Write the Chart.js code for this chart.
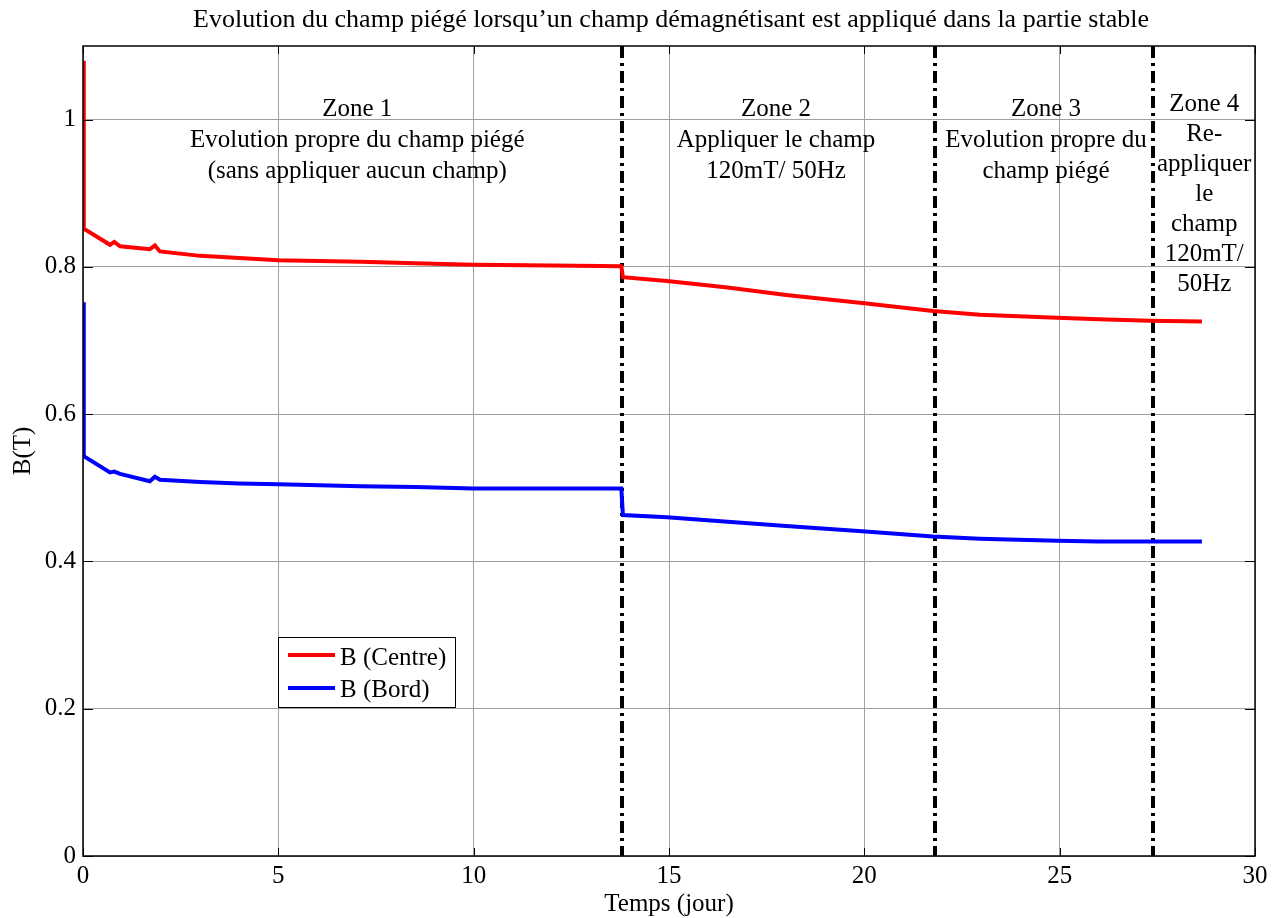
<!DOCTYPE html>
<html>
<head>
<meta charset="utf-8">
<script src="https://cdn.jsdelivr.net/npm/chart.js@4.4.1/dist/chart.umd.min.js"></script>
<style>
  html, body { margin: 0; padding: 0; background: #fff; }
  #wrap { width: 1280px; height: 918px; position: relative; }
</style>
</head>
<body>
<div id="wrap"><canvas id="chart"></canvas></div>
<script>
// time in days
const days = [0, 0.02, 0.69, 0.8, 0.95, 1.71, 1.84, 1.97, 3.0, 4.0, 5.0, 7.1, 8.5, 10.0, 12.0, 13.78, 13.82, 14.95, 16.5, 18.0, 19.94, 21.76, 22.96, 24.93, 26.0, 27.3, 28.64];
const bCentre = [1.08, 0.852, 0.830, 0.834, 0.828, 0.824, 0.829, 0.821, 0.815, 0.812, 0.809, 0.807, 0.805, 0.803, 0.802, 0.801, 0.786, 0.781, 0.772, 0.762, 0.751, 0.740, 0.735, 0.731, 0.729, 0.727, 0.726];
const bBord = [0.752, 0.543, 0.521, 0.522, 0.519, 0.509, 0.515, 0.511, 0.508, 0.506, 0.505, 0.502, 0.501, 0.499, 0.499, 0.499, 0.463, 0.460, 0.454, 0.448, 0.441, 0.434, 0.431, 0.428, 0.427, 0.427, 0.427];

// zone boundaries (days)
const zoneLimits = [13.8, 21.8, 27.4];

const xTicks = [0, 5, 10, 15, 20, 25, 30];
const yTicks = [0, 0.2, 0.4, 0.6, 0.8, 1];

const zoneLabels = [
  { x: 7.02, lines: ['Zone 1', 'Evolution propre du champ piégé', '(sans appliquer aucun champ)'] },
  { x: 17.74, lines: ['Zone 2', 'Appliquer le champ', '120mT/ 50Hz'] },
  { x: 24.65, lines: ['Zone 3', 'Evolution propre du', 'champ piégé'] },
  { x: 28.7, lines: ['Zone 4', 'Re-', 'appliquer', 'le', 'champ', '120mT/', '50Hz'] }
];

const serif = '"Liberation Serif", "Times New Roman", serif';

const pts = (ys) => days.map((d, i) => ({ x: d, y: ys[i] }));

const decor = {
  id: 'decor',
  beforeDatasetsDraw(chart) {
    const { ctx, chartArea: a, scales: { x } } = chart;
    // zone separators
    ctx.save();
    ctx.strokeStyle = '#000';
    ctx.lineWidth = 4;
    ctx.setLineDash([12, 5, 3, 5]);
    zoneLimits.forEach(v => {
      const px = Math.round(x.getPixelForValue(v));
      ctx.beginPath();
      ctx.moveTo(px, a.top);
      ctx.lineTo(px, a.bottom);
      ctx.stroke();
    });
    ctx.restore();
  },
  afterDatasetsDraw(chart) {
    const { ctx, chartArea: a, scales: { x, y } } = chart;
    ctx.save();
    // box
    ctx.strokeStyle = '#000';
    ctx.lineWidth = 1.5;
    ctx.strokeRect(a.left, a.top, a.right - a.left, a.bottom - a.top);
    // inward tick marks
    ctx.lineWidth = 1;
    xTicks.forEach(v => {
      const px = Math.round(x.getPixelForValue(v)) + 0.5;
      ctx.beginPath();
      ctx.moveTo(px, a.bottom); ctx.lineTo(px, a.bottom - 8);
      ctx.moveTo(px, a.top); ctx.lineTo(px, a.top + 8);
      ctx.stroke();
    });
    yTicks.forEach(v => {
      const py = Math.round(y.getPixelForValue(v)) + 0.5;
      ctx.beginPath();
      ctx.moveTo(a.left, py); ctx.lineTo(a.left + 10, py);
      ctx.moveTo(a.right, py); ctx.lineTo(a.right - 10, py);
      ctx.stroke();
    });

    // zone text
    ctx.fillStyle = '#000';
    ctx.font = '25px ' + serif;
    ctx.textAlign = 'center';
    ctx.textBaseline = 'alphabetic';
    zoneLabels.forEach(z => {
      const px = x.getPixelForValue(z.x);
      const tall = z.lines.length > 3;
      z.lines.forEach((t, i) => {
        const py = tall ? 111 + i * 30 : 116 + i * 31;
        ctx.fillText(t, px, py);
      });
    });

    // legend
    const lx = 278, ly = 637, lw = 177, lh = 70;
    ctx.fillStyle = '#fff';
    ctx.fillRect(lx, ly, lw, lh);
    ctx.strokeStyle = '#000';
    ctx.lineWidth = 1;
    ctx.strokeRect(lx + 0.5, ly + 0.5, lw, lh);
    const items = [['B (Centre)', '#ff0000', 655, 665], ['B (Bord)', '#0000ff', 688, 697]];
    ctx.textAlign = 'left';
    items.forEach(([t, c, py, by]) => {
      ctx.strokeStyle = c;
      ctx.lineWidth = 4;
      ctx.beginPath();
      ctx.moveTo(288, py); ctx.lineTo(335, py);
      ctx.stroke();
      ctx.fillStyle = '#000';
      ctx.fillText(t, 340, by);
    });

    // title
    ctx.font = '26px ' + serif;
    ctx.textAlign = 'center';
    ctx.fillText('Evolution du champ piégé lorsqu\u2019un champ démagnétisant est appliqué dans la partie stable', 671, 27);
    ctx.restore();
  }
};

new Chart(document.getElementById('chart'), {
  type: 'scatter',
  data: {
    datasets: [
      { label: 'B (Centre)', data: pts(bCentre), showLine: true, borderColor: '#ff0000', borderWidth: 4, pointRadius: 0, tension: 0 },
      { label: 'B (Bord)', data: pts(bBord), showLine: true, borderColor: '#0000ff', borderWidth: 4, pointRadius: 0, tension: 0 }
    ]
  },
  options: {
    responsive: true,
    maintainAspectRatio: false,
    animation: false,
    layout: { padding: { top: 46, right: 25, left: 0, bottom: 0 } },
    plugins: {
      legend: { display: false },
      tooltip: { enabled: false }
    },
    scales: {
      x: {
        type: 'linear',
        min: 0,
        max: 30,
        afterBuildTicks: s => { s.ticks = xTicks.map(v => ({ value: v })); },
        afterFit: s => { s.height = 62; },
        grid: { color: '#a0a0a0', lineWidth: 1, drawTicks: false },
        border: { display: false },
        ticks: { color: '#000', font: { family: serif, size: 25 }, padding: 5, maxRotation: 0, callback: v => String(v) },
        title: { display: true, text: 'Temps (jour)', color: '#000', font: { family: serif, size: 25 }, padding: { top: 0, bottom: -1 } }
      },
      y: {
        min: 0,
        max: 1.1,
        afterBuildTicks: s => { s.ticks = yTicks.map(v => ({ value: v })); },
        afterFit: s => { s.width = 83; },
        grid: { color: '#a0a0a0', lineWidth: 1, drawTicks: false },
        border: { display: false },
        ticks: { color: '#000', font: { family: serif, size: 25 }, padding: 7, callback: v => String(v) },
        title: { display: true, text: 'B(T)', color: '#000', font: { family: serif, size: 25 }, padding: { top: 8, bottom: 0 } }
      }
    }
  },
  plugins: [decor]
});
</script>
</body>
</html>
